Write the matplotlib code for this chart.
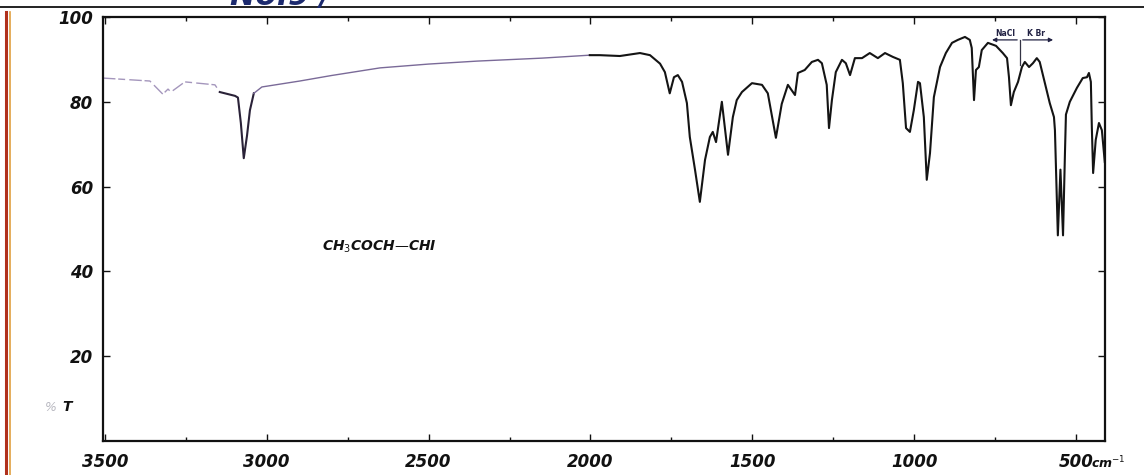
import numpy as np
import matplotlib
matplotlib.use("Agg")
import matplotlib.pyplot as plt
from matplotlib.lines import Line2D
from matplotlib.ticker import MultipleLocator, FixedLocator

# IR spectrum of CH3COCH=CHI (wavenumber in cm-1, transmittance in %)
wavenumber = [3506, 3361, 3321, 3305, 3296, 3253, 3160, 3145, 3098, 3089,
              3080, 3071, 3061, 3052, 3040, 3015, 2898, 2800, 2650, 2500,
              2350, 2150, 2002,
              1971, 1909, 1847, 1816, 1785, 1770, 1755, 1742, 1730, 1717,
              1702, 1693, 1677, 1662, 1646, 1631, 1622, 1612, 1594, 1575,
              1560, 1548, 1532, 1501, 1470, 1452, 1427, 1409, 1390, 1368,
              1359, 1338, 1316, 1297, 1285, 1270, 1263, 1254, 1242, 1223,
              1211, 1198, 1183, 1161, 1137, 1112, 1090, 1066, 1044, 1035,
              1025, 1013, 1001, 988, 982, 970, 961, 951, 939, 920,
              902, 883, 865, 843, 828, 822, 815, 809, 800, 791,
              772, 747, 726, 713, 707, 701, 692, 679, 667, 658,
              645, 633, 621, 612, 596, 581, 568, 565, 556, 548,
              540, 534, 531, 519, 497, 479, 466, 460, 454, 451,
              447, 439, 429, 420, 411]
transmittance = [85.6, 84.9, 81.8, 83.0, 82.3, 84.7, 84.0, 82.3, 81.4, 81.0,
                 75.0, 66.7, 72.0, 78.0, 82.0, 83.5, 84.9, 86.2, 88.0, 88.9,
                 89.6, 90.3, 91.0,
                 91.0, 90.8, 91.5, 91.0, 89.0, 87.0, 82.0, 85.8, 86.3, 84.7,
                 79.7, 71.7, 64.0, 56.4, 66.3, 71.7, 72.9, 70.5, 80.0, 67.5,
                 76.4, 80.4, 82.3, 84.4, 84.0, 82.0, 71.5, 79.5, 84.0, 81.6,
                 86.8, 87.5, 89.4, 89.9, 89.1, 84.0, 73.8, 80.4, 87.0, 89.9,
                 89.1, 86.3, 90.3, 90.3, 91.5, 90.3, 91.5, 90.6, 89.9, 84.4,
                 73.8, 72.9, 78.0, 84.7, 84.4, 76.4, 61.6, 67.9, 81.1, 88.2,
                 91.5, 93.9, 94.6, 95.3, 94.6, 92.7, 80.4, 87.5, 88.2, 92.2,
                 93.9, 93.2, 91.5, 90.3, 85.8, 79.2, 82.3, 84.7, 88.2, 89.4,
                 88.2, 89.1, 90.3, 89.4, 84.4, 79.7, 76.4, 73.3, 48.5, 64.0,
                 48.5, 68.0, 77.0, 80.0, 83.3, 85.6, 85.8, 86.8, 84.7, 74.0,
                 63.2, 71.0, 75.0, 73.3, 65.8]

x_major = [3500, 3000, 2500, 2000, 1500, 1000, 500]
x_labels = ["3500", "3000", "2500", "2000", "1500", "1000", "500"]
y_major = [20, 40, 60, 80, 100]
y_labels = ["20", "40", "60", "80", "100"]

compound = "CH$_3$COCH\u2014CHI"

wn = np.array(wavenumber, dtype=float)
tr = np.array(transmittance, dtype=float)

fig = plt.figure(figsize=(11.44, 4.75), dpi=100)
fig.patch.set_facecolor("white")
ax = fig.add_axes([0.090, 0.0716, 0.876, 0.8926])
ax.set_xlim(3506, 410)
ax.set_ylim(0, 100)

# trace: faint pen at the high-wavenumber end, darker elsewhere
def segment(lo, hi):
    m = (wn >= lo) & (wn <= hi)
    idx = np.where(m)[0]
    if idx.size and idx[0] > 0:
        idx = np.concatenate([[idx[0] - 1], idx])
    return wn[idx], tr[idx]

sx, sy = segment(3100, 9999)
ax.plot(sx, sy, color="#a496bc", lw=1.0, dashes=(9, 2, 5, 3))
sx, sy = segment(3030, 3100)
ax.plot(sx, sy, color="#2a2238", lw=1.5)
sx, sy = segment(1980, 3030)
ax.plot(sx, sy, color="#7a6a98", lw=1.0)
sx, sy = segment(0, 1980)
ax.plot(sx, sy, color="#141414", lw=1.5, solid_joinstyle="round")

for s in ax.spines.values():
    s.set_linewidth(1.6)
    s.set_color("#111111")

fontkw = dict(fontsize=12, fontweight="bold", fontstyle="italic", color="#111111")
ax.xaxis.set_major_locator(FixedLocator(x_major))
ax.xaxis.set_minor_locator(MultipleLocator(250))
ax.set_xticklabels(x_labels, **fontkw)
ax.yaxis.set_major_locator(FixedLocator(y_major))
ax.set_yticklabels(y_labels, **fontkw)
ax.tick_params(axis="both", which="both", direction="in", top=True, right=True,
               width=1.0, color="#111111")
ax.tick_params(axis="both", which="major", length=5)
ax.tick_params(axis="both", which="minor", length=3)
ax.tick_params(axis="x", which="major", pad=9)
ax.tick_params(axis="y", which="major", pad=7)

# unit right after the last wavenumber label
ax.annotate("cm$^{-1}$", xy=(500, 0), xycoords="data", xytext=(11, -16),
            textcoords="offset points", ha="left", va="center",
            fontsize=9, fontweight="bold", fontstyle="italic", color="#111111")

# compound formula
ax.text(2828, 45.8, compound, ha="left", va="center", fontsize=10,
        fontweight="bold", fontstyle="italic", color="#111111")

# ordinate caption
ax.text(-0.052, 0.08, "%", transform=ax.transAxes, ha="center", va="center",
        fontsize=9, color="#b8b8c0", fontstyle="italic")
ax.text(-0.036, 0.08, "T", transform=ax.transAxes, ha="center", va="center",
        fontsize=10, color="#111111", fontstyle="italic", fontweight="bold")

# prism change marker: NaCl | KBr
ax.annotate("", xy=(768, 94.6), xytext=(673, 94.6),
            arrowprops=dict(arrowstyle="-|>", lw=0.9, color="#222244",
                            mutation_scale=6))
ax.annotate("", xy=(562, 94.6), xytext=(673, 94.6),
            arrowprops=dict(arrowstyle="-|>", lw=0.9, color="#222244",
                            mutation_scale=6))
ax.plot([673, 673], [94.6, 88.7], color="#333344", lw=0.9)
ax.text(720, 96.0, "NaCl", ha="center", va="center", fontsize=5.5,
        fontweight="bold", color="#222244")
ax.text(624, 96.0, "K Br", ha="center", va="center", fontsize=5.5,
        fontweight="bold", color="#222244")

# page border at the top and coloured edge at the left
fig.add_artist(Line2D([0, 1], [0.986, 0.986], transform=fig.transFigure,
                      color="#222222", lw=1.4))
fig.add_artist(Line2D([0.0055, 0.0055], [0.0, 0.975], transform=fig.transFigure,
                      color="#b0301c", lw=2.2))
fig.add_artist(Line2D([0.0085, 0.0085], [0.0, 0.975], transform=fig.transFigure,
                      color="#e0a040", lw=1.2))
fig.text(0.245, 1.008, "No.9 /", ha="center", va="center", fontsize=22,
         fontweight="bold", color="#1c2a6e", fontstyle="italic")

fig.savefig("out.png", dpi=100, facecolor="white")
